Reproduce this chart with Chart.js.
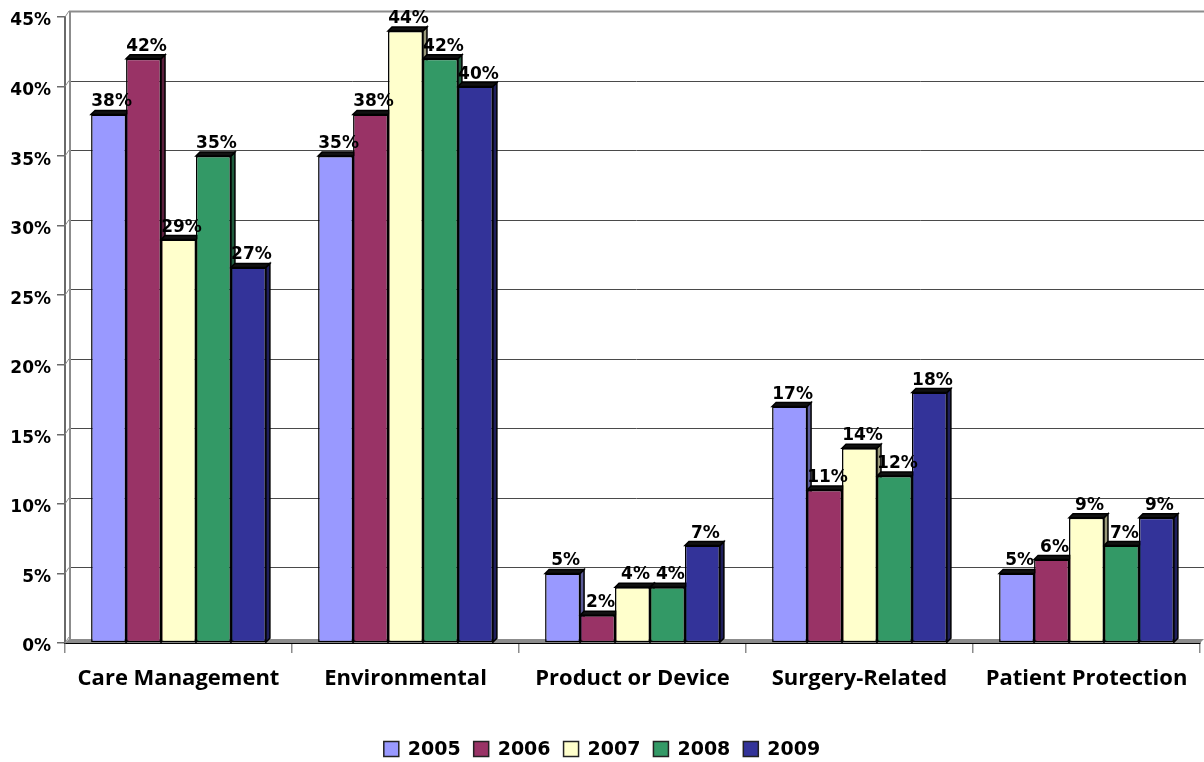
<!DOCTYPE html>
<html>
<head>
<meta charset="utf-8">
<script src="https://cdn.jsdelivr.net/npm/chart.js@4/dist/chart.umd.min.js"></script>
<style>
html,body{margin:0;padding:0;background:#fff;}
#wrap{width:1204px;height:762px;position:relative;}
</style>
</head>
<body>
<div id="wrap"><canvas id="c" width="1204" height="762"></canvas></div>
<script>
// ---- data ----
const categories = ['Care Management', 'Environmental', 'Product or Device', 'Surgery-Related', 'Patient Protection'];
const years = ['2005', '2006', '2007', '2008', '2009'];
const v2005 = [38, 35, 5, 17, 5];
const v2006 = [42, 38, 2, 11, 6];
const v2007 = [29, 44, 4, 14, 9];
const v2008 = [35, 42, 4, 12, 7];
const v2009 = [27, 40, 7, 18, 9];
const yMin = 0, yMax = 45, yStep = 5;

// ---- styles ----
const fills = ['#9999FF', '#993366', '#FFFFCC', '#339966', '#333399'];
const sides = ['#5c5c99', '#5c1f3d', '#99997a', '#1f5c3d', '#1f1f5c'];
const series = [v2005, v2006, v2007, v2008, v2009];

const DEPTH_X = 4, DEPTH_Y = 4;

const threeD = {
  id: 'threeD',
  beforeDatasetsDraw(chart) {
    const ctx = chart.ctx;
    const ca = chart.chartArea;
    const ys = chart.scales.y;
    ctx.save();
    // floor
    ctx.fillStyle = '#8c8c8c';
    ctx.beginPath();
    ctx.moveTo(ca.left, ca.bottom);
    ctx.lineTo(ca.right, ca.bottom);
    ctx.lineTo(ca.right + DEPTH_X, ca.bottom - DEPTH_Y);
    ctx.lineTo(ca.left + DEPTH_X, ca.bottom - DEPTH_Y);
    ctx.closePath();
    ctx.fill();
    // back wall gridlines
    ctx.lineWidth = 1;
    ys.ticks.forEach(t => {
      const y = Math.round(ys.getPixelForValue(t.value) - DEPTH_Y - 2) + 0.5;
      if (t.value !== yMin) {
        ctx.strokeStyle = t.value === yMax ? '#8c8c8c' : '#4a4a4a';
        ctx.lineWidth = t.value === yMax ? 2 : 1;
        ctx.beginPath();
        ctx.moveTo(ca.left + DEPTH_X, y);
        ctx.lineTo(chart.width, y);
        ctx.stroke();
      }
      // connector from tick to wall
      ctx.strokeStyle = '#8c8c8c';
      ctx.lineWidth = 1;
      ctx.beginPath();
      ctx.moveTo(ca.left, ys.getPixelForValue(t.value));
      ctx.lineTo(ca.left + DEPTH_X, ys.getPixelForValue(t.value) - DEPTH_Y - 2);
      ctx.stroke();
    });
    // wall left edge
    ctx.strokeStyle = '#8c8c8c';
    ctx.lineWidth = 2;
    ctx.beginPath();
    ctx.moveTo(ca.left + DEPTH_X + 1, ys.getPixelForValue(yMax) - DEPTH_Y - 2);
    ctx.lineTo(ca.left + DEPTH_X + 1, ca.bottom - DEPTH_Y);
    ctx.stroke();
    // bar sides and tops
    chart.data.datasets.forEach((ds, di) => {
      const meta = chart.getDatasetMeta(di);
      meta.data.forEach(bar => {
        const half = bar.width / 2;
        const l = bar.x - half, r = bar.x + half, t = bar.y, b = bar.base;
        ctx.lineWidth = 1.5;
        ctx.strokeStyle = '#000';
        // side
        ctx.fillStyle = sides[di];
        ctx.beginPath();
        ctx.moveTo(r, t);
        ctx.lineTo(r + DEPTH_X, t - DEPTH_Y);
        ctx.lineTo(r + DEPTH_X, b - DEPTH_Y);
        ctx.lineTo(r, b);
        ctx.closePath();
        ctx.fill();
        ctx.stroke();
        // top
        ctx.fillStyle = '#111';
        ctx.beginPath();
        ctx.moveTo(l, t);
        ctx.lineTo(l + DEPTH_X, t - DEPTH_Y);
        ctx.lineTo(r + DEPTH_X, t - DEPTH_Y);
        ctx.lineTo(r, t);
        ctx.closePath();
        ctx.fill();
        ctx.stroke();
      });
    });
    ctx.restore();
  },
  afterDatasetsDraw(chart) {
    const ctx = chart.ctx;
    ctx.save();
    ctx.font = 'bold 17px "DejaVu Sans"';
    ctx.fillStyle = '#000';
    ctx.textAlign = 'center';
    ctx.textBaseline = 'alphabetic';
    chart.data.datasets.forEach((ds, di) => {
      const meta = chart.getDatasetMeta(di);
      meta.data.forEach((bar, i) => {
        ctx.fillText(ds.data[i] + '%', bar.x + 3, bar.y - 8);
      });
    });
    ctx.restore();
  },
  afterDraw(chart) {
    // legend
    const ctx = chart.ctx;
    ctx.save();
    ctx.font = 'bold 19px "DejaVu Sans"';
    ctx.textBaseline = 'middle';
    ctx.textAlign = 'left';
    const box = 15, gap = 9, pad = 13;
    const widths = chart.data.datasets.map(ds => box + gap + ctx.measureText(ds.label).width);
    const total = widths.reduce((a, w) => a + w, 0) + pad * (widths.length - 1);
    let x = (chart.width - total) / 2;
    const cy = 749;
    chart.data.datasets.forEach((ds, di) => {
      ctx.fillStyle = ds.backgroundColor;
      ctx.fillRect(x, cy - box / 2, box, box);
      ctx.lineWidth = 1.5;
      ctx.strokeStyle = '#222';
      ctx.strokeRect(x, cy - box / 2, box, box);
      ctx.fillStyle = '#000';
      ctx.fillText(ds.label, x + box + gap, cy + 1);
      x += widths[di] + pad;
    });
    ctx.restore();
  }
};

const datasets = years.map((yr, i) => ({
  label: yr,
  data: series[i],
  backgroundColor: fills[i],
  borderColor: '#000',
  borderWidth: 1.5,
  barPercentage: 1.0,
  categoryPercentage: 0.77,
  borderSkipped: false
}));

new Chart(document.getElementById('c'), {
  type: 'bar',
  data: { labels: categories, datasets },
  plugins: [threeD],
  options: {
    responsive: false,
    animation: false,
    devicePixelRatio: 1,
    layout: { padding: { top: 17, right: 4, left: 0, bottom: 0 } },
    plugins: {
      legend: { display: false },
      tooltip: { enabled: false }
    },
    scales: {
      x: {
        afterFit(s) { s.height = 119; },
        grid: { drawOnChartArea: false, drawTicks: true, tickLength: 10, color: '#8c8c8c', lineWidth: 1.5, offset: true },
        border: { display: true, color: '#000', width: 2 },
        ticks: { color: '#000', font: { family: '"Open Sans"', weight: 'bold', size: 22 }, padding: 13, maxRotation: 0 }
      },
      y: {
        min: yMin, max: yMax,
        afterFit(s) { s.width = 65; },
        grid: { drawOnChartArea: false, drawTicks: true, tickLength: 8, color: '#6a6a6a', lineWidth: 1.5 },
        border: { display: true, color: '#6a6a6a', width: 2 },
        ticks: {
          stepSize: yStep,
          color: '#000',
          padding: 6,
          labelOffset: 4,
          font: { family: '"DejaVu Sans"', weight: 'bold', size: 17 },
          callback: v => v + '%'
        }
      }
    }
  }
});
</script>
</body>
</html>
